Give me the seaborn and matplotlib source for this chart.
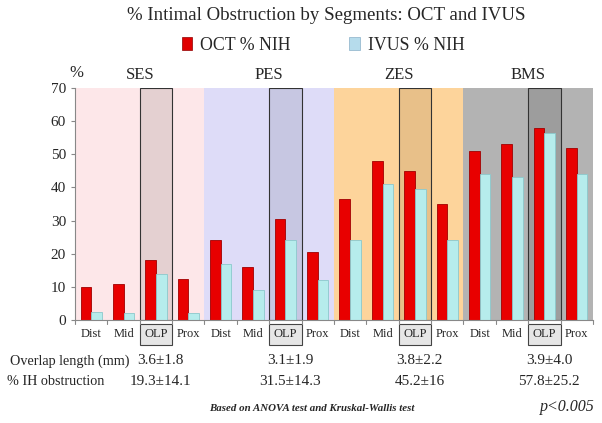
import numpy as np
import pandas as pd
import matplotlib
matplotlib.use('Agg')
import matplotlib.pyplot as plt
import matplotlib.transforms as mtrans
import seaborn as sns
from matplotlib.patches import Rectangle

groups = ['SES', 'PES', 'ZES', 'BMS']
segments = ['Dist', 'Mid', 'OLP', 'Prox']
oct_vals = [10, 11, 18, 12.5,
            24, 16, 30.5, 20.5,
            36.5, 48, 45, 35,
            51, 53, 58, 52]
ivus_vals = [2.3, 2, 14, 2,
             17, 9, 24, 12,
             24, 41, 39.5, 24,
             44, 43, 56.5, 44]
overlap_len = ['3.6±1.8', '3.1±1.9', '3.8±2.2', '3.9±4.0']
ih_obstr = ['19.3±14.1', '31.5±14.3', '45.2±16', '57.8±25.2']

bg_colors = ['#fde7e9', '#dedcf8', '#fdd49b', '#b3b3b3']
olp_colors = ['#e4d0d1', '#c7c7e2', '#e8c089', '#9d9d9d']

keys = [g + ' ' + s for g in groups for s in segments]
df = pd.DataFrame({
    'key': keys * 2,
    'value': oct_vals + ivus_vals,
    'series': ['OCT % NIH'] * 16 + ['IVUS % NIH'] * 16,
})

sns.set_style('white')
plt.rcParams['font.family'] = ['Liberation Serif', 'DejaVu Serif']

fig = plt.figure(figsize=(6.02, 4.23), dpi=100)
ax = fig.add_axes([0.1246, 0.2435, 0.8604, 0.5485])

# coloured group backgrounds + boxed OLP column
for i, g in enumerate(groups):
    ax.axvspan(4 * i - 0.5, 4 * i + 3.5, color=bg_colors[i], zorder=0, lw=0)
    ax.add_patch(Rectangle((4 * i + 1.5, 0), 1, 70, facecolor=olp_colors[i],
                           edgecolor='#333333', lw=0.8, zorder=0.5))
    ax.text(4 * i + 1.5, 73.8, g, ha='center', va='center', fontsize=12)

sns.barplot(data=df, x='key', y='value', hue='series', order=keys,
            palette={'OCT % NIH': '#e80000', 'IVUS % NIH': '#b6ecec'},
            saturation=1, width=0.66, ax=ax, zorder=2, legend=False,
            linewidth=0)
for bar in ax.containers[0]:
    bar.set_edgecolor('#a00000')
    bar.set_linewidth(0.6)
for bar in ax.containers[1]:
    bar.set_edgecolor('#8cc8cc')
    bar.set_linewidth(0.6)

ax.set_xlim(-0.5, 15.5)
ax.set_ylim(0, 70)
ax.set_yticks(range(0, 71, 10))
ax.tick_params(axis='y', labelsize=11, length=3, direction='out', left=True,
               color='#888888')
ax.set_xticks(range(16))
ax.set_xticklabels(segments * 4, fontsize=9)
ax.tick_params(axis='x', length=0, pad=6)
for lab in ax.get_xticklabels():
    if lab.get_text() == 'OLP':
        lab.set_bbox(dict(facecolor='#e6e6e6', edgecolor='#444444', lw=0.8,
                          boxstyle='square,pad=0.35'))
for x in np.arange(-0.5, 16, 1):
    ax.plot([x, x], [0, -1.2], color='#888888', lw=0.8, clip_on=False)
ax.set_xlabel('')
ax.set_ylabel('')
for s in ['top', 'right']:
    ax.spines[s].set_visible(False)
ax.spines['left'].set_color('#888888')
ax.spines['bottom'].set_color('#888888')
ax.text(-0.45, 74.5, '%', fontsize=12, ha='center', va='center')

fig.text(0.542, 0.963, '% Intimal Obstruction by Segments: OCT and IVUS',
         ha='center', va='center', fontsize=13.6)
h1 = Rectangle((0, 0), 1, 1, facecolor='#e00000', edgecolor='#900000', lw=0.5)
h2 = Rectangle((0, 0), 1, 1, facecolor='#b6dcec', edgecolor='#8ab0c8', lw=0.5)
fig.legend([h1, h2], ['OCT % NIH', 'IVUS % NIH'], ncol=2, frameon=False,
           loc='center', bbox_to_anchor=(0.537, 0.893), fontsize=12.8,
           handlelength=0.6, handleheight=0.8, columnspacing=3.3, handletextpad=0.45)

# table rows under the chart
fig.text(0.016, 0.147, 'Overlap length (mm)', ha='left', va='center', fontsize=10.2)
fig.text(0.012, 0.097, '% IH obstruction', ha='left', va='center', fontsize=10.2)
blend = mtrans.blended_transform_factory(ax.transData, fig.transFigure)
for i in range(4):
    ax.text(4 * i + 2.15, 0.147, overlap_len[i], transform=blend, ha='center',
            va='center', fontsize=11)
    ax.text(4 * i + 2.15, 0.097, ih_obstr[i], transform=blend, ha='center',
            va='center', fontsize=11)
fig.text(0.518, 0.035, 'Based on ANOVA test and Kruskal-Wallis test', ha='center',
         va='center', fontsize=7.8, style='italic', weight='bold')
fig.text(0.943, 0.037, 'p<0.005', ha='center', va='center', fontsize=11.5, style='italic')

fig.savefig('out.png', dpi=100)
